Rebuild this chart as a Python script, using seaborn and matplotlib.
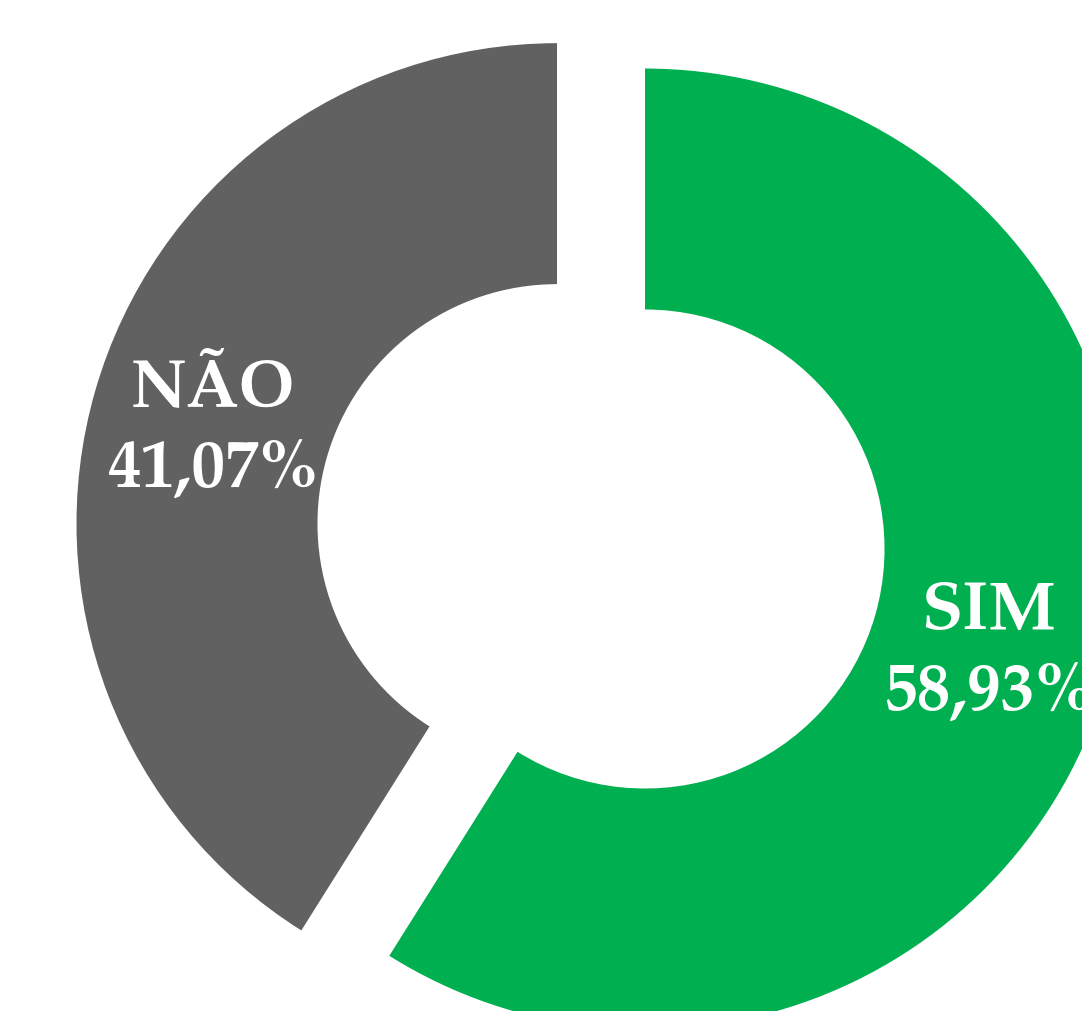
import matplotlib
matplotlib.use("Agg")
import matplotlib.pyplot as plt
from matplotlib.transforms import offset_copy
import seaborn as sns
import numpy as np

sns.set_theme(style="white")
plt.rcParams['font.family'] = ['TeX Gyre Pagella', 'Liberation Serif', 'DejaVu Serif']

categories = ["SIM", "NÃO"]
values = [58.93, 41.07]
value_labels = ["58,93%", "41,07%"]
colors = ["#00AF50", "#616161"]

fig = plt.figure(figsize=(10.82, 10.12), dpi=100)
ax = fig.add_axes([0, 0, 1, 1])
wedges, _ = ax.pie(values, colors=colors, startangle=90, counterclock=False,
                   explode=[0.095, 0.095], radius=0.997,
                   wedgeprops=dict(width=0.5, linewidth=0))

shifted = offset_copy(ax.transData, fig=fig, x=0, y=-4, units="points")
for w, cat, lab in zip(wedges, categories, value_labels):
    cx, cy = w.center
    th = np.deg2rad((w.theta1 + w.theta2) / 2)
    r = 0.745 * w.r
    ax.text(cx + r * np.cos(th), cy + r * np.sin(th), f"{cat}\n{lab}",
            ha="center", va="center", color="white", fontsize=48.5,
            fontweight="bold", linespacing=1.3, transform=shifted)

ax.set_xlim(-1.247, 0.998)
ax.set_ylim(-0.985, 1.115)
ax.set_aspect("auto")
ax.axis("off")
fig.savefig("out.png", dpi=100, facecolor="white")
